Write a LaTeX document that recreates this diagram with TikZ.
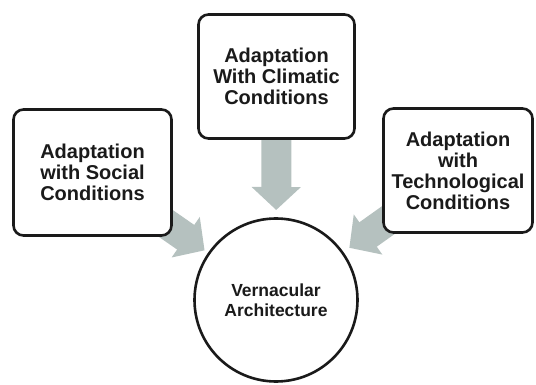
\documentclass[tikz,border=0pt]{standalone}
\usepackage{fontspec}
\setmainfont{Liberation Sans}
\usetikzlibrary{arrows.meta,backgrounds}
\definecolor{arrowgray}{RGB}{181,193,191}
\definecolor{ink}{RGB}{26,26,26}
\begin{document}
\begin{tikzpicture}[x=1pt,y=-1pt,
  boxnode/.style={draw=ink,line width=2.6pt,rounded corners=10pt,fill=white,
    inner sep=0pt,align=center,text=ink,
    font=\fontsize{20}{21}\selectfont\bfseries},
  circnode/.style={draw=ink,line width=2.6pt,circle,fill=white,inner sep=0pt,
    minimum size=163pt,align=center,text=ink,
    font=\fontsize{17.5}{20}\selectfont\bfseries},
  blockarrow/.style={draw=arrowgray,line width=30pt,
    -{Triangle[width=48pt,length=23pt]}}]
\useasboundingbox (0,0) rectangle (536,385);
\node[boxnode,minimum width=158pt,minimum height=126pt] (social) at (92.5,172.5)
  {Adaptation\\with Social\\Conditions};
\node[boxnode,minimum width=156pt,minimum height=124pt] (climatic) at (276.5,76.5)
  {Adaptation\\With Climatic\\Conditions};
\node[boxnode,minimum width=149pt,minimum height=124pt] (techno) at (458,170.5)
  {Adaptation\\with\\Technological\\Conditions};
\node[circnode] (vern) at (276,300) {Vernacular\\Architecture};
\begin{scope}[on background layer]
\draw[blockarrow,shorten >=87pt] (social.center) -- (vern.center);
\draw[blockarrow,shorten >=90pt] (climatic.center) -- (vern.center);
\draw[blockarrow,shorten >=90pt] (techno.center) -- (vern.center);
\end{scope}
\end{tikzpicture}
\end{document}
